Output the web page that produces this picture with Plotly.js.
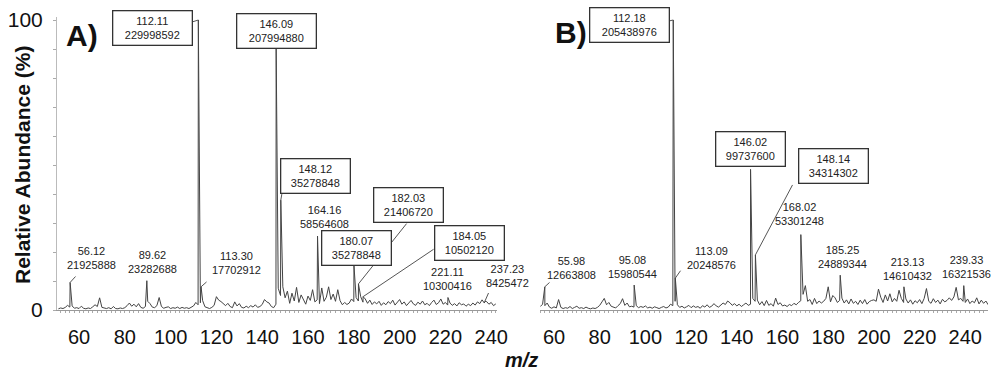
<!DOCTYPE html>
<html><head><meta charset="utf-8">
<script src="https://cdn.plot.ly/plotly-3.0.1.min.js"></script>
<style>html,body{margin:0;padding:0;background:#fff;} #chart{width:992px;height:374px;}</style>
</head><body><div id="chart"></div>
<script>
// ---------- DATA (relative abundance, %) ----------
// Panel A: baseline / minor signals
const noiseA_mz = [
  51,52,53,54,55,56,57,58,59,60,
  61,62,63,64,65,66,67,68,69,70,
  71,72,73,74,75,76,77,78,79,80,
  81,82,83,84,85,86,87,88,89,90,
  91,92,93,94,95,96,97,98,99,100,
  101,102,103,104,105,106,107,108,109,110,
  111,112,113,114,115,116,117,118,119,120,
  121,122,123,124,125,126,127,128,129,130,
  131,132,133,134,135,136,137,138,139,140,
  141,142,143,144,145,146,147,148,149,150,
  151,152,153,154,155,156,157,158,159,160,
  161,162,163,164,165,166,167,168,169,170,
  171,172,173,174,175,176,177,178,179,180,
  181,182,183,184,185,186,187,188,189,190,
  191,192,193,194,195,196,197,198,199,200,
  201,202,203,204,205,206,207,208,209,210,
  211,212,213,214,215,216,217,218,219,220,
  221,222,223,224,225,226,227,228,229,230,
  231,232,233,234,235,236,237,238,239,240,
  241,242
];
const noiseA_ab = [
  0.4,0.7,0.5,0.9,1.6,1.0,1.4,0.6,0.8,0.5,
  1.3,0.6,0.4,0.7,0.5,1.1,1.8,1.2,4.2,0.9,
  0.6,0.5,0.8,0.4,1.2,0.5,0.4,0.7,0.5,0.8,
  1.5,2.4,1.3,2.0,1.1,2.2,0.9,0.6,1.2,3.0,
  2.2,1.0,0.8,1.5,4.3,1.2,0.6,0.9,1.1,0.5,
  0.8,0.6,1.0,0.5,0.9,0.6,0.8,0.5,1.0,1.4,
  2.6,1.8,2.5,3.2,1.1,0.7,0.5,0.9,1.6,4.6,
  3.4,2.9,2.1,1.5,2.3,1.2,0.8,2.8,1.4,2.2,
  0.9,0.7,1.3,0.8,1.5,1.0,1.8,0.9,1.2,1.9,
  3.6,2.8,2.4,1.2,0.8,2.0,7.5,5.0,8.0,4.2,
  6.5,2.3,5.8,3.1,7.8,2.6,5.2,3.4,2.0,4.8,
  3.3,7.0,2.8,3.5,2.2,7.6,3.0,4.4,8.0,3.6,
  5.5,3.0,7.0,3.2,1.8,2.6,1.9,2.4,3.8,2.9,
  4.3,3.1,4.6,2.7,3.8,2.3,3.4,1.9,2.8,2.1,
  3.0,1.6,2.5,1.8,2.9,2.2,3.4,1.7,2.6,3.6,
  2.0,2.8,1.5,2.4,3.3,2.1,1.6,2.7,2.0,3.1,
  1.8,2.3,1.5,2.6,3.4,1.9,2.5,3.8,2.0,2.6,
  1.7,2.4,1.6,2.2,1.4,2.5,1.8,2.1,1.3,2.0,
  1.5,2.4,1.7,2.8,2.2,3.5,2.4,2.9,2.0,2.6,
  1.5,2.1
];
// Panel A: labelled peaks
const peaksA_mz = [56.12, 89.62, 112.11, 113.30, 146.09, 148.12, 164.16, 180.07, 182.03, 184.05, 221.11, 237.23];
const peaksA_ab = [9.5, 10.1, 100, 8.0, 90.4, 37.9, 25.5, 15.3, 9.0, 4.6, 4.3, 3.0];
const labA_mz   = ['56.12','89.62','112.11','113.30','146.09','148.12','164.16','180.07','182.03','184.05','221.11','237.23'];
const labA_int  = ['21925888','23282688','229998592','17702912','207994880','35278848','58564608','35278848','21406720','10502120','10300416','8425472'];

// Panel B: baseline / minor signals
const noiseB_mz = [
  54,55,56,57,58,59,60,61,62,63,
  64,65,66,67,68,69,70,71,72,73,
  74,75,76,77,78,79,80,81,82,83,
  84,85,86,87,88,89,90,91,92,93,
  94,95,96,97,98,99,100,101,102,103,
  104,105,106,107,108,109,110,111,112,113,
  114,115,116,117,118,119,120,121,122,123,
  124,125,126,127,128,129,130,131,132,133,
  134,135,136,137,138,139,140,141,142,143,
  144,145,146,147,148,149,150,151,152,153,
  154,155,156,157,158,159,160,161,162,163,
  164,165,166,167,168,169,170,171,172,173,
  174,175,176,177,178,179,180,181,182,183,
  184,185,186,187,188,189,190,191,192,193,
  194,195,196,197,198,199,200,201,202,203,
  204,205,206,207,208,209,210,211,212,213,
  214,215,216,217,218,219,220,221,222,223,
  224,225,226,227,228,229,230,231,232,233,
  234,235,236,237,238,239,240,241,242,243,
  244,245,246,247,248,249,250
];
const noiseB_ab = [
  1.2,2.0,1.5,2.4,1.0,0.6,1.1,0.7,3.6,0.9,
  0.5,0.8,0.6,1.2,0.5,0.9,1.3,0.6,0.8,0.5,
  1.0,0.6,0.4,0.7,0.5,0.9,1.6,2.8,4.0,1.8,
  2.6,1.3,1.0,0.7,1.5,2.2,3.9,1.6,2.4,1.1,
  1.3,1.0,1.5,0.8,1.2,0.9,1.4,0.7,1.0,0.6,
  1.1,0.8,0.5,0.9,1.2,0.7,1.0,2.0,1.5,3.0,
  1.8,0.9,1.3,0.7,1.1,1.6,0.8,1.4,0.9,1.2,
  0.6,1.5,1.0,1.8,0.9,1.3,2.2,1.4,1.0,1.7,
  2.4,1.9,3.1,2.5,1.6,2.2,1.4,2.0,1.2,1.8,
  2.4,1.6,2.0,4.0,3.0,3.4,1.8,2.9,1.5,3.3,
  1.6,2.2,1.3,4.1,1.9,2.5,1.4,1.7,1.2,1.9,
  1.5,2.3,1.8,2.6,3.2,5.4,8.4,3.0,3.6,1.9,
  4.0,2.2,3.1,2.4,3.0,4.0,8.0,2.8,5.0,4.2,
  2.6,3.3,4.1,2.4,3.5,2.1,3.8,2.3,3.0,1.9,
  3.4,2.2,3.6,2.0,2.9,3.3,3.5,3.0,7.2,4.4,
  2.6,5.2,3.1,5.6,2.8,4.0,3.0,6.8,4.0,2.6,
  3.8,2.4,3.5,2.0,3.2,2.5,3.6,2.2,4.0,7.4,
  3.0,2.3,3.9,2.6,3.4,2.1,3.7,2.8,3.3,4.2,
  3.3,4.5,7.8,3.5,4.0,3.0,2.6,3.8,2.2,3.1,
  2.5,4.2,2.1,3.4,2.3,3.1,1.8
];
// Panel B: labelled peaks
const peaksB_mz = [55.98, 95.08, 112.18, 113.09, 146.02, 148.14, 168.02, 185.25, 213.13, 239.33];
const peaksB_ab = [8.0, 8.6, 100, 11.0, 48.5, 19.0, 26.0, 12.0, 8.0, 8.4];
const labB_mz   = ['55.98','95.08','112.18','113.09','146.02','148.14','168.02','185.25','213.13','239.33'];
const labB_int  = ['12663808','15980544','205438976','20248576','99737600','34314302','53301248','24889344','14610432','16321536'];

const xTicks = [60, 80, 100, 120, 140, 160, 180, 200, 220, 240];
const yTicks = [0, 10, 20, 30, 40, 50, 60, 70, 80, 90, 100];
const yTickText = ['0', '', '', '', '', '', '', '', '', '', '100'];

// ---------- LABEL PLACEMENT (pixel offsets from the peak top) ----------
const cfgA = [
  {box:false, dx:20.9, dy:-24.5, lx:5.9, ly:-6.5},
  {box:false, dx:5.2, dy:-18.7},
  {box:true,  dx:-46.3, dy:8, lx:-6.3, ly:2},
  {box:false, dx:35, dy:-23.8, lx:6, ly:-5.3},
  {box:true,  dx:0.4, dy:-17.3},
  {box:true,  dx:34.7, dy:-24.5, lx:1.2, ly:-7},
  {box:false, dx:6.5, dy:-19},
  {box:true,  dx:3, dy:-18.1},
  {box:true,  dx:49.6, dy:-78.9, lx:48.6, ly:-60.9},
  {box:true,  dx:106.5, dy:-53.2, lx:71, ly:-47.7},
  {box:false, dx:-0.9, dy:-18.5},
  {box:false, dx:23.1, dy:-25.3, lx:4.1, ly:-9.3}
];
const cfgB = [
  {box:false, dx:26.2, dy:-18.8, lx:5.2, ly:-4.8},
  {box:false, dx:-1.3, dy:-18.1},
  {box:true,  dx:-43.8, dy:5, lx:-4.3, ly:1},
  {box:false, dx:35.7, dy:-20.1, lx:5.7, ly:-8.1},
  {box:true,  dx:0.4, dy:-20.4},
  {box:true,  dx:77.6, dy:-88.9, lx:37.6, ly:-70.9},
  {box:false, dx:-1.7, dy:-20.6},
  {box:false, dx:1.8, dy:-18.2},
  {box:false, dx:3.1, dy:-17.8},
  {box:false, dx:3.2, dy:-18.6}
];

const FONT = 'Liberation Sans, Arial, Helvetica, sans-serif';

function buildProfile(nmz, nab, pmz, pab) {
  const pts = [];
  for (let i = 0; i < nmz.length; i++) pts.push([nmz[i], nab[i]]);
  for (let i = 0; i < pmz.length; i++) pts.push([pmz[i], pab[i]]);
  pts.sort((a, b) => a[0] - b[0]);
  return {x: pts.map(p => p[0]), y: pts.map(p => p[1])};
}

const profA = buildProfile(noiseA_mz, noiseA_ab, peaksA_mz, peaksA_ab);
const profB = buildProfile(noiseB_mz, noiseB_ab, peaksB_mz, peaksB_ab);

const traces = [
  {type:'scatter', mode:'lines', x:profA.x, y:profA.y, xaxis:'x', yaxis:'y',
   line:{color:'#444', width:1}, hoverinfo:'skip'},
  {type:'scatter', mode:'lines', x:profB.x, y:profB.y, xaxis:'x2', yaxis:'y2',
   line:{color:'#444', width:1}, hoverinfo:'skip'}
];

const leaders = [];
const labels = [];
function addLabels(pmz, pab, lmz, lint, cfg, xr, yr) {
  for (let i = 0; i < pmz.length; i++) {
    const c = cfg[i];
    if (c.lx !== undefined) {
      leaders.push({x:pmz[i], y:pab[i], xref:xr, yref:yr, text:' ', showarrow:true,
        ax:c.lx, ay:c.ly, axref:'pixel', ayref:'pixel', arrowhead:0, arrowwidth:1,
        arrowcolor:'#555', standoff:0, startstandoff:0, font:{size:1}, borderpad:0});
    }
    const a = {x:pmz[i], y:pab[i], xref:xr, yref:yr, showarrow:false,
      text: lmz[i] + '<br>' + lint[i], xanchor:'center', yanchor:'middle',
      xshift:c.dx, yshift:-c.dy, align:'center',
      font:{family:FONT, size:11, color:'#222'}};
    if (c.box) {
      a.bgcolor = '#fff'; a.bordercolor = '#333'; a.borderwidth = 1.3; a.borderpad = 3;
      a.width = lint[i].length > 8 ? 72 : 62; a.height = 27;
    }
    labels.push(a);
  }
}
addLabels(peaksA_mz, peaksA_ab, labA_mz, labA_int, cfgA, 'x', 'y');
addLabels(peaksB_mz, peaksB_ab, labB_mz, labB_int, cfgB, 'x2', 'y2');

const textAnn = [
  {xref:'paper', yref:'paper', x:22/992, y:1-165/374, text:'<b>Relative Abundance (%)</b>',
   textangle:-90, showarrow:false, xanchor:'center', yanchor:'middle',
   font:{family:FONT, size:21, color:'#111'}},
  {xref:'paper', yref:'paper', x:521/992, y:1-360/374, text:'<b><i>m/z</i></b>',
   showarrow:false, xanchor:'center', yanchor:'middle', font:{family:FONT, size:20, color:'#111'}},
  {xref:'paper', yref:'paper', x:82/992, y:1-35/374, text:'<b>A)</b>',
   showarrow:false, xanchor:'center', yanchor:'middle', font:{family:FONT, size:30, color:'#111'}},
  {xref:'paper', yref:'paper', x:571/992, y:1-32/374, text:'<b>B)</b>',
   showarrow:false, xanchor:'center', yanchor:'middle', font:{family:FONT, size:30, color:'#111'}}
];

const yDom = [64/374, (374-17.1)/374];
const xCommon = {tickmode:'array', tickvals:xTicks, ticks:'', showline:true, linecolor:'#999',
  linewidth:1, showgrid:false, zeroline:false, tickfont:{family:FONT, size:20, color:'#111'},
  ticklabelstandoff:9, automargin:false, fixedrange:true,
  minor:{tickmode:'linear', tick0:0, dtick:2, ticks:'outside', ticklen:2, tickcolor:'#aaa', tickwidth:1, showgrid:false}};

const layout = {
  width:992, height:374, margin:{l:0, r:0, t:0, b:0, pad:0},
  paper_bgcolor:'#fff', plot_bgcolor:'rgba(0,0,0,0)', showlegend:false,
  font:{family:FONT, color:'#111'},
  xaxis: Object.assign({}, xCommon, {domain:[57/992, 497/992], range:[50.39, 242.53], anchor:'y'}),
  xaxis2: Object.assign({}, xCommon, {domain:[540/992, 988/992], range:[53.87, 249.93], anchor:'y2'}),
  yaxis: {domain:yDom, range:[0, 101], anchor:'x', tickmode:'array', tickvals:yTicks, ticktext:yTickText,
    ticks:'outside', ticklen:3, tickcolor:'#aaa', showline:true, linecolor:'#bbb', linewidth:1,
    showgrid:false, zeroline:false, tickfont:{family:FONT, size:21, color:'#111'},
    ticklabelstandoff:6, automargin:false, fixedrange:true},
  yaxis2: {domain:yDom, range:[0, 101], anchor:'x2', visible:false, fixedrange:true},
  annotations: leaders.concat(labels).concat(textAnn)
};

Plotly.newPlot('chart', traces, layout, {displayModeBar:false, staticPlot:true});
</script>
</body></html>
